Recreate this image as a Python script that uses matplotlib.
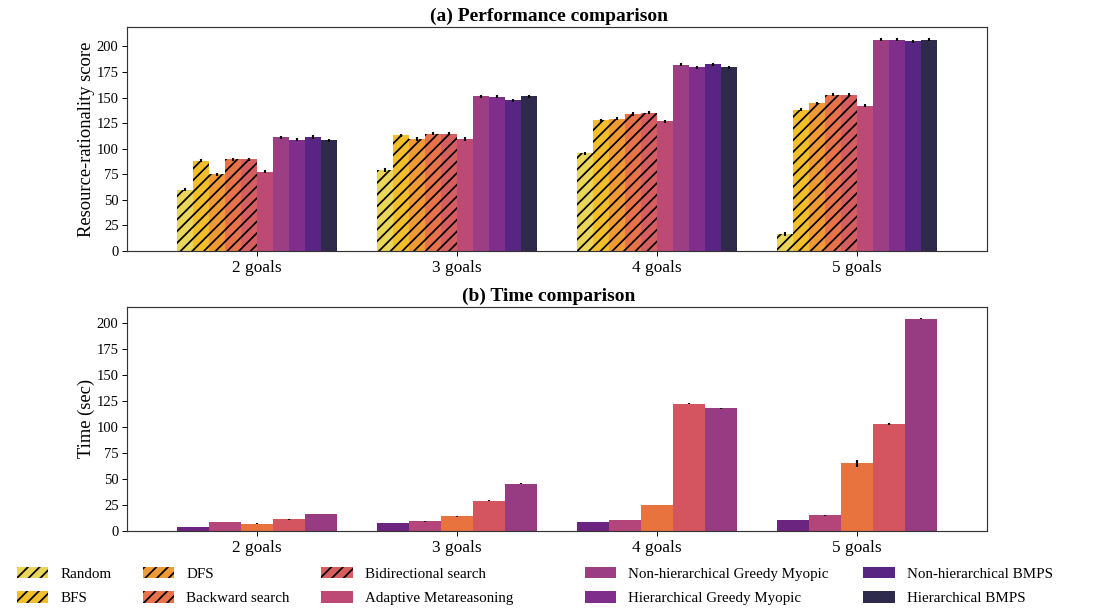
import numpy as np
import matplotlib
matplotlib.use('Agg')
import matplotlib.pyplot as plt

plt.rcParams['font.family'] = ['Liberation Serif', 'DejaVu Serif']
plt.rcParams['hatch.linewidth'] = 0.9

# data
groups = ['2 goals', '3 goals', '4 goals', '5 goals']

methods = ['Random', 'BFS', 'DFS', 'Backward search', 'Bidirectional search',
           'Adaptive Metareasoning', 'Non-hierarchical Greedy Myopic',
           'Hierarchical Greedy Myopic', 'Non-hierarchical BMPS', 'Hierarchical BMPS']
colors = ['#e9d65a', '#f3be2c', '#f09a35', '#e8724a', '#d65e5f',
          '#bd4a74', '#9c3e84', '#7f2f8b', '#592583', '#2e2a4c']
hatched = [True, True, True, True, True, False, False, False, False, False]

# resource-rationality score per method (2..5 goals)
score_random = [60, 79, 95.5, 16.5]
score_bfs = [88.5, 113, 128, 138]
score_dfs = [75, 109.5, 129.5, 144.5]
score_backward = [89.5, 114.5, 134, 153]
score_bidirectional = [89.5, 114.5, 135, 153]
score_adaptive = [77.5, 109.5, 127, 142]
score_nh_greedy = [111, 151.5, 182, 206.5]
score_h_greedy = [109, 151, 179.5, 206.5]
score_nh_bmps = [111.5, 147.5, 182.5, 205]
score_h_bmps = [108.5, 151.5, 179.5, 206.5]
scores = [score_random, score_bfs, score_dfs, score_backward, score_bidirectional,
          score_adaptive, score_nh_greedy, score_h_greedy, score_nh_bmps, score_h_bmps]
score_err = [1.8, 1.5, 1.5, 1.5, 1.5, 1.5, 1.5, 1.5, 1.5, 1.5]

# time (sec), five series
time_a = [3.8, 7.1, 8.1, 10]
time_b = [8.1, 9, 10, 14.8]
time_c = [6.7, 13.8, 24.7, 64.8]
time_d = [11, 28.8, 122, 102.6]
time_e = [16, 45.2, 117.7, 203.5]
times = [time_a, time_b, time_c, time_d, time_e]
time_err = [[0.2, 0.2, 0.2, 0.2], [0.2, 0.2, 0.2, 0.3], [0.3, 0.5, 0.4, 3.5],
            [0.3, 0.5, 0.5, 0.6], [0.3, 0.3, 0.4, 0.5]]
time_colors = ['#6b2480', '#b4457a', '#e8733f', '#d4555f', '#973c82']

DPI = 140
fig = plt.figure(figsize=(1099 / DPI, 613 / DPI), dpi=DPI)
ax1 = fig.add_axes([0.116, 0.5905, 0.7821, 0.3654])
ax2 = fig.add_axes([0.116, 0.1343, 0.7821, 0.3649])

xs = np.arange(len(groups))
w1 = 0.08
handles = []
for i, (m, vals) in enumerate(zip(methods, scores)):
    pos = xs + (i - 4.5) * w1
    b = ax1.bar(pos, vals, width=w1, color=colors[i], edgecolor='black', linewidth=0,
                hatch='////' if hatched[i] else None, label=m)
    ax1.errorbar(pos, vals, yerr=score_err[i], fmt='none', ecolor='black',
                 elinewidth=1.1, capsize=0)
    handles.append(b)

w2 = 0.16
for i, vals in enumerate(times):
    pos = xs + (i - 2) * w2
    ax2.bar(pos, vals, width=w2, color=time_colors[i], linewidth=0)
    ax2.errorbar(pos, vals, yerr=time_err[i], fmt='none', ecolor='black',
                 elinewidth=1.1, capsize=0)

for ax, top, lab, title in [(ax1, 219, 'Resource-rationality score', '(a) Performance comparison'),
                            (ax2, 215, 'Time (sec)', '(b) Time comparison')]:
    ax.set_xlim(-0.6475, 3.65)
    ax.set_ylim(0, top)
    ax.set_xticks(xs)
    ax.set_xticklabels(groups, fontsize=8.9)
    ax.set_yticks(np.arange(0, 201, 25))
    ax.tick_params(axis='y', labelsize=7.5, length=2.6, width=0.5, pad=2)
    ax.tick_params(axis='x', length=2.6, width=0.5, pad=2)
    ax.set_ylabel(lab, fontsize=9.5, labelpad=1)
    ax.set_title(title, fontsize=10, fontweight='bold', pad=3, x=0.49)
    for s in ax.spines.values():
        s.set_linewidth(0.6)
        s.set_color('#333333')

# legend split in two blocks to follow the reference spacing
leg_kw = dict(ncol=3, frameon=False, fontsize=7.7, handlelength=2.1, handleheight=0.8,
              handletextpad=0.8, columnspacing=2.1, labelspacing=0.72,
              borderpad=0, borderaxespad=0, loc='center left')
fig.legend(handles=handles[:6], bbox_to_anchor=(17 / 1099, 0.044), **leg_kw)
leg_kw['ncol'] = 2
leg_kw['columnspacing'] = 2.3
fig.legend(handles=handles[6:], bbox_to_anchor=(585 / 1099, 0.044), **leg_kw)

fig.savefig('out.png', dpi=DPI)
